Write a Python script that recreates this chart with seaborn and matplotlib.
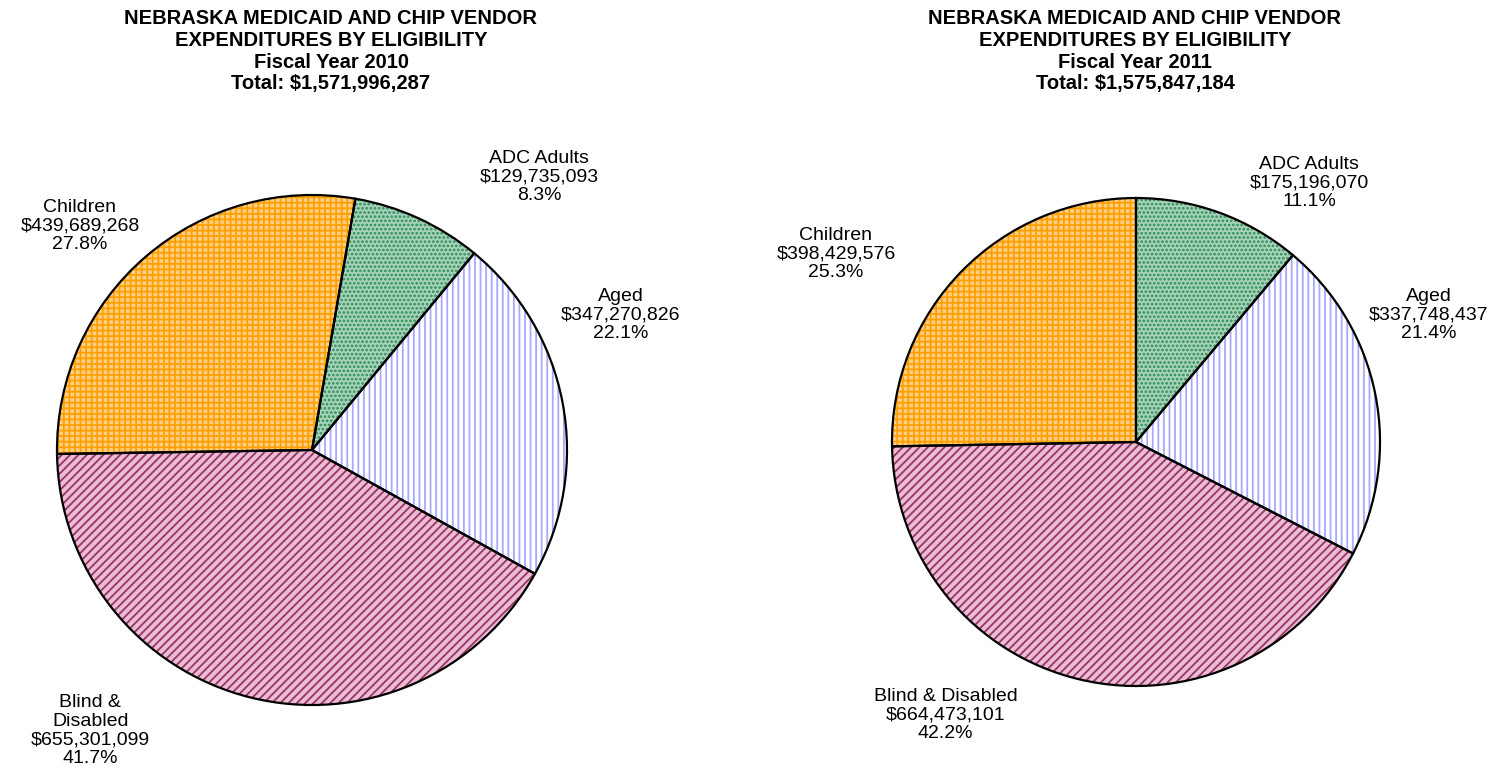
import matplotlib
matplotlib.use("Agg")
import matplotlib.pyplot as plt
import seaborn as sns

# ------------------------------------------------------------------ #
# Data
# ------------------------------------------------------------------ #
categories = ["ADC Adults", "Aged", "Blind & Disabled", "Children"]
fy2010_values = [129735093, 347270826, 655301099, 439689268]
fy2011_values = [175196070, 337748437, 664473101, 398429576]
fy2010_pct = ["8.3%", "22.1%", "41.7%", "27.8%"]
fy2011_pct = ["11.1%", "21.4%", "42.2%", "25.3%"]
fy2010_total = "$1,571,996,287"
fy2011_total = "$1,575,847,184"

sns.set_theme(style="white")
plt.rcParams["font.family"] = ["Liberation Sans", "DejaVu Sans"]
plt.rcParams["text.color"] = "black"
plt.rcParams["hatch.linewidth"] = 1.3

# face colour, hatch colour, hatch pattern per category
styles = {
    "ADC Adults": ("#A6D3B9", "#2E8B57", "...."),
    "Aged": ("#FFFFFF", "#A8A8FF", "|||"),
    "Blind & Disabled": ("#EABDD3", "#993366", "////"),
    "Children": ("#FFCF85", "#FFA000", "+++"),
}

fig = plt.figure(figsize=(14.99, 7.77), dpi=100)
W, H = 1499, 777


def draw_pie(cx, cy, r, values, pcts, startangle, label_pos, label_names):
    pad = 1.1
    size = 2 * pad * r
    ax = fig.add_axes([(cx - size / 2) / W, (H - cy - size / 2) / H, size / W, size / H])
    faces = [styles[c][0] for c in categories]
    wedges, _ = ax.pie(values, colors=faces, startangle=startangle, counterclock=False,
                       wedgeprops=dict(linewidth=0))
    for w, c in zip(wedges, categories):
        w.set_hatch(styles[c][2])
        w.set_edgecolor(styles[c][1])
        w.set_linewidth(0)
    # outlines on top
    ax.pie(values, startangle=startangle, counterclock=False,
           wedgeprops=dict(fill=False, edgecolor="black", linewidth=1.6))
    ax.set_xlim(-pad, pad)
    ax.set_ylim(-pad, pad)
    ax.set_aspect("equal")
    ax.axis("off")
    for c, v, p, name in zip(categories, values, pcts, label_names):
        lx, ly = label_pos[c]
        ax.text(lx, ly, f"{name}\n${v:,.0f}\n{p}", ha="center", va="center",
                fontsize=14, color="black", linespacing=1.12, clip_on=False)
    return ax


def draw_title(cx, year, total):
    lines = ["NEBRASKA MEDICAID AND CHIP VENDOR",
             "EXPENDITURES BY ELIGIBILITY",
             f"Fiscal Year {year}",
             f"Total: {total}"]
    for i, t in enumerate(lines):
        fig.text(cx / W, 1 - (18 + 22 * i) / H, t, ha="center", va="center",
                 fontsize=14.5, fontweight="bold", color="black")


draw_title(331, 2010, fy2010_total)
draw_title(1135, 2011, fy2011_total)

draw_pie(312, 450, 255, fy2010_values, fy2010_pct, 80.2,
         {"ADC Adults": (0.89, 1.07), "Aged": (1.21, 0.53),
          "Blind & Disabled": (-0.87, -1.10), "Children": (-0.91, 0.88)},
         ["ADC Adults", "Aged", "Blind &\nDisabled", "Children"])
draw_pie(1136, 442, 244, fy2011_values, fy2011_pct, 90,
         {"ADC Adults": (0.71, 1.06), "Aged": (1.20, 0.52),
          "Blind & Disabled": (-0.78, -1.12), "Children": (-1.23, 0.77)},
         ["ADC Adults", "Aged", "Blind & Disabled", "Children"])

fig.savefig("out.png", dpi=100)
